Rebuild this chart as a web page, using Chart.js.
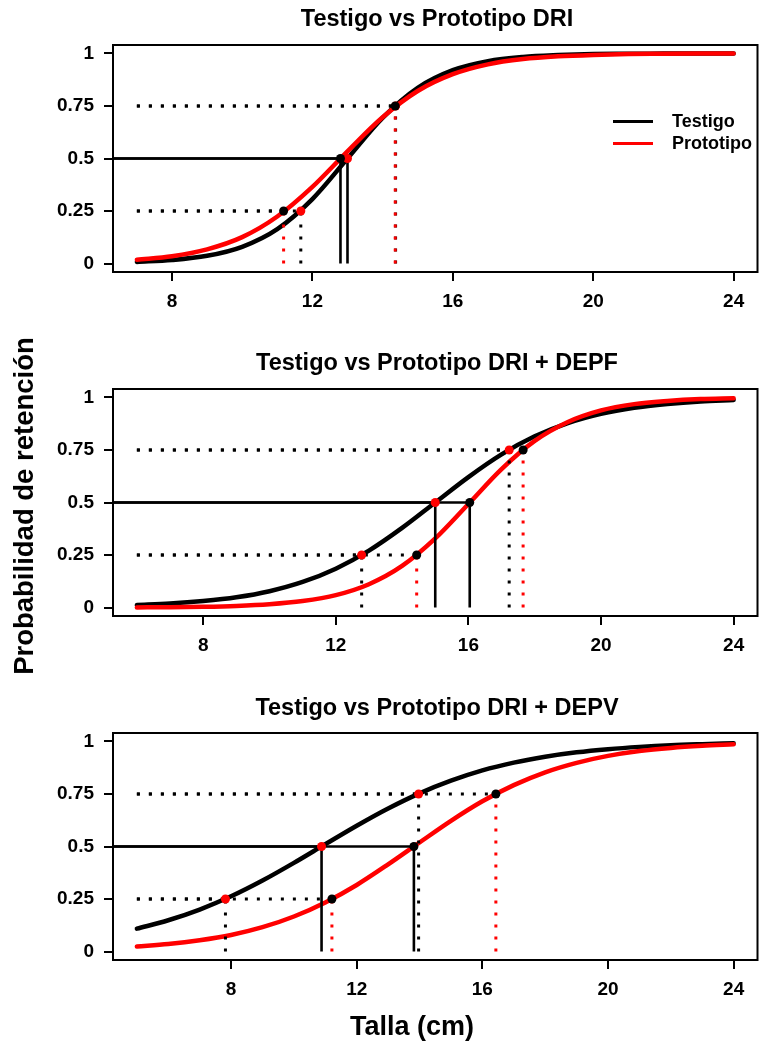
<!DOCTYPE html>
<html lang="es">
<head>
<meta charset="utf-8">
<title>Probabilidad de retención por talla</title>
<script src="https://cdn.jsdelivr.net/npm/chart.js@4.4.1/dist/chart.umd.min.js"></script>
<style>
  html, body { margin: 0; padding: 0; background: #fff; }
  #fig {
    position: relative;
    width: 762px;
    height: 1044px;
    overflow: hidden;
    font-family: "Liberation Sans", Arial, Helvetica, sans-serif;
    font-weight: bold;
    color: #000;
  }
  .panel { position: absolute; left: 0; width: 762px; }
  .panel canvas { display: block; }
  .title {
    position: absolute;
    left: 113px;
    width: 648px;
    height: 28px;
    line-height: 28px;
    text-align: center;
    font-size: 23.5px;
    white-space: nowrap;
  }
  #ylabel {
    position: absolute;
    left: -176px;
    top: 491px;
    width: 400px;
    height: 30px;
    line-height: 30px;
    text-align: center;
    font-size: 27.5px;
    transform: rotate(-90deg);
    white-space: nowrap;
  }
  #xlabel {
    position: absolute;
    left: 262px;
    top: 1011px;
    width: 300px;
    height: 30px;
    line-height: 30px;
    text-align: center;
    font-size: 27px;
  }
  .legend-row { position: absolute; left: 613px; height: 22px; }
  .legend-row .swatch {
    position: absolute; left: 0; top: 10px; width: 40px; height: 3px;
  }
  .legend-row .txt {
    position: absolute; left: 59px; top: 0; line-height: 22px; font-size: 18px;
  }
</style>
</head>
<body>
<div id="fig">
  <div class="panel" style="top:0px"><canvas id="c1" width="762" height="330"></canvas></div>
  <div class="panel" style="top:330px"><canvas id="c2" width="762" height="350"></canvas></div>
  <div class="panel" style="top:680px"><canvas id="c3" width="762" height="364"></canvas></div>

  <div class="title" style="top:4px">Testigo vs Prototipo DRI</div>
  <div class="title" style="top:348px">Testigo vs Prototipo DRI + DEPF</div>
  <div class="title" style="top:693px">Testigo vs Prototipo DRI + DEPV</div>

  <div class="legend-row" style="top:110px">
    <div class="swatch" style="background:#000"></div><div class="txt">Testigo</div>
  </div>
  <div class="legend-row" style="top:132px">
    <div class="swatch" style="background:#ff0000"></div><div class="txt">Prototipo</div>
  </div>

  <div id="ylabel">Probabilidad de retención</div>
  <div id="xlabel">Talla (cm)</div>
</div>

<script>
// Retention probability by length (cm), one pair of curves per gear
const talla1 = [7, 8, 9, 10, 11, 12, 13, 14, 15, 16, 17, 18, 19, 20, 21, 22, 23, 24];
const testigo1 = [0.008, 0.017, 0.037, 0.080, 0.164, 0.307, 0.500, 0.693, 0.836, 0.920,
                  0.963, 0.983, 0.992, 0.997, 0.998, 0.999, 1.000, 1.000];
const prototipo1 = [0.018, 0.035, 0.068, 0.126, 0.224, 0.365, 0.534, 0.696, 0.821, 0.901,
                    0.948, 0.973, 0.986, 0.993, 0.997, 0.998, 0.999, 1.000];

const talla2 = [6, 7, 8, 9, 10, 11, 12, 13, 14, 15, 16, 17, 18, 19, 20, 21, 22, 23, 24];
const testigo2 = [0.012, 0.019, 0.031, 0.049, 0.078, 0.122, 0.185, 0.271, 0.379, 0.500,
                  0.621, 0.729, 0.815, 0.878, 0.922, 0.951, 0.969, 0.981, 0.988];
const prototipo2 = [0.001, 0.002, 0.004, 0.008, 0.016, 0.031, 0.059, 0.111, 0.198, 0.329,
                    0.493, 0.659, 0.793, 0.883, 0.938, 0.968, 0.983, 0.992, 0.996];

const talla3 = [5, 6, 7, 8, 9, 10, 11, 12, 13, 14, 15, 16, 17, 18, 19, 20, 21, 22, 23, 24];
const testigo3 = [0.109, 0.149, 0.200, 0.263, 0.338, 0.422, 0.511, 0.599, 0.681, 0.753,
                  0.813, 0.862, 0.899, 0.927, 0.948, 0.963, 0.974, 0.982, 0.987, 0.991];
const prototipo3 = [0.024, 0.036, 0.054, 0.079, 0.116, 0.167, 0.234, 0.317, 0.415, 0.519,
                    0.622, 0.715, 0.792, 0.853, 0.898, 0.931, 0.954, 0.969, 0.979, 0.986];

// L25, L50, L75 for each curve
const probLevels = [0.25, 0.5, 0.75];
const lTestigo1 = [11.67, 13.0, 14.37];
const lPrototipo1 = [11.18, 12.8, 14.36];
const lTestigo2 = [12.78, 15.0, 17.23];
const lPrototipo2 = [14.44, 16.04, 17.65];
const lTestigo3 = [7.82, 10.88, 13.97];
const lPrototipo3 = [11.21, 13.82, 16.43];

const xTicks = [8, 12, 16, 20, 24];
const yTicks = [0, 0.25, 0.5, 0.75, 1];

const BLACK = "#000000";
const RED = "#ff0000";
const FONT = "'Liberation Sans', Arial, Helvetica, sans-serif";

// full frame around the plotting region, like base R graphics
const boxPlugin = {
  id: "box",
  afterDraw(chart) {
    const { ctx, chartArea: a } = chart;
    ctx.save();
    ctx.strokeStyle = BLACK;
    ctx.lineWidth = 2;
    ctx.strokeRect(a.left, a.top, a.right - a.left, a.bottom - a.top);
    ctx.restore();
  },
};

function toPoints(xs, ys) {
  return xs.map((x, i) => ({ x: x, y: ys[i] }));
}

function makePanel(id, talla, testigo, prototipo, lTest, lProt, padTop, axisHeight) {
  // R-style 4% extension of the x range
  const span = talla[talla.length - 1] - talla[0];
  const xMin = talla[0] - 0.04 * span;
  const xMax = talla[talla.length - 1] + 0.04 * span;

  const datasets = [
    {
      label: "Testigo",
      data: toPoints(talla, testigo),
      borderColor: BLACK,
      borderWidth: 4.5,
      borderCapStyle: "round",
      pointRadius: 0,
      cubicInterpolationMode: "monotone",
      order: 31,
    },
    {
      label: "Prototipo",
      data: toPoints(talla, prototipo),
      borderColor: RED,
      borderWidth: 4.5,
      borderCapStyle: "round",
      pointRadius: 0,
      cubicInterpolationMode: "monotone",
      order: 30,
    },
  ];

  // reference segments: horizontal in black, verticals dotted in the curve colour,
  // solid black at 0.5
  [[lTest, BLACK, 21], [lProt, RED, 20]].forEach(([ls, col, ord]) => {
    ls.forEach((L, k) => {
      const p = probLevels[k];
      const solid = p === 0.5;
      datasets.push({
        data: [{ x: solid ? xMin - 1 : talla[0], y: p }, { x: L, y: p }],
        borderColor: BLACK,
        borderWidth: solid ? 2.6 : 3,
        borderDash: solid ? [] : [3, 9],
        pointRadius: 0,
        order: ord,
      });
      datasets.push({
        data: [{ x: L, y: 0 }, { x: L, y: p }],
        borderColor: solid ? BLACK : col,
        borderWidth: solid ? 2.6 : 3,
        borderDash: solid ? [] : [3, 9],
        pointRadius: 0,
        order: ord,
      });
    });
  });

  // markers at L25/L50/L75
  datasets.push({
    data: lTest.map((L, k) => ({ x: L, y: probLevels[k] })),
    showLine: false,
    pointRadius: 4.5,
    pointBorderWidth: 0,
    pointBackgroundColor: RED,
    order: 11,
  });
  datasets.push({
    data: lProt.map((L, k) => ({ x: L, y: probLevels[k] })),
    showLine: false,
    pointRadius: 4.5,
    pointBorderWidth: 0,
    pointBackgroundColor: BLACK,
    order: 10,
  });

  const tickFont = { family: FONT, size: 19, weight: "bold" };

  new Chart(document.getElementById(id), {
    type: "line",
    data: { datasets: datasets },
    options: {
      responsive: false,
      animation: false,
      devicePixelRatio: 1,
      events: [],
      layout: { padding: { top: padTop, right: 1, left: 0, bottom: 0 } },
      plugins: { legend: { display: false }, tooltip: { enabled: false } },
      scales: {
        x: {
          type: "linear",
          min: xMin,
          max: xMax,
          afterBuildTicks: (s) => {
            s.ticks = xTicks.map((v) => ({ value: v }));
          },
          afterFit: (s) => {
            s.height = axisHeight;
          },
          grid: {
            drawOnChartArea: false,
            drawTicks: true,
            tickLength: 9,
            color: BLACK,
            lineWidth: 2,
          },
          border: { display: false },
          ticks: {
            color: BLACK,
            font: tickFont,
            padding: 9,
            maxRotation: 0,
            autoSkip: false,
            callback: (v) => String(v),
          },
        },
        y: {
          type: "linear",
          min: -0.04,
          max: 1.04,
          afterBuildTicks: (s) => {
            s.ticks = yTicks.map((v) => ({ value: v }));
          },
          afterFit: (s) => {
            s.width = 113;
          },
          grid: {
            drawOnChartArea: false,
            drawTicks: true,
            tickLength: 9,
            color: BLACK,
            lineWidth: 2,
          },
          border: { display: false },
          ticks: {
            color: BLACK,
            font: tickFont,
            padding: 10,
            autoSkip: false,
            callback: (v) => String(v),
          },
        },
      },
    },
    plugins: [boxPlugin],
  });
}

makePanel("c1", talla1, testigo1, prototipo1, lTestigo1, lPrototipo1, 45, 58);
makePanel("c2", talla2, testigo2, prototipo2, lTestigo2, lPrototipo2, 59, 64);
makePanel("c3", talla3, testigo3, prototipo3, lTestigo3, lPrototipo3, 53, 84);
</script>
</body>
</html>
